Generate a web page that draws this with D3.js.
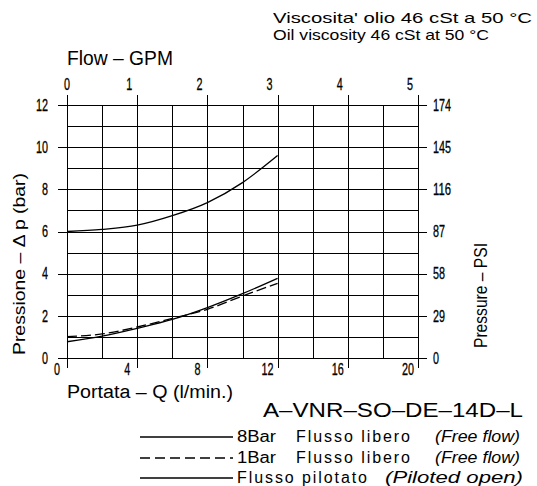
<!DOCTYPE html>
<html>
<head>
<meta charset="utf-8">
<script src="https://cdn.jsdelivr.net/npm/d3@7"></script>
<style>
  html, body { margin: 0; padding: 0; background: #fff; }
  svg { display: block; }
  text { fill: #000; }
</style>
</head>
<body>
<svg id="chart" width="537" height="486"></svg>
<script>
// ---- data ----
const flowLpm   = [0, 2, 4, 6, 8, 10, 12];
const bar8Free  = [6.0, 6.1, 6.3, 6.75, 7.37, 8.32, 9.6];
const bar1Free  = [1.01, 1.14, 1.47, 1.88, 2.31, 2.94, 3.54];
const piloted   = [0.77, 1.04, 1.41, 1.83, 2.39, 3.05, 3.78];

const barTicks  = [0, 2, 4, 6, 8, 10, 12];
const psiLabels = ["0", "29", "58", "87", "116", "145", "174"];
const lpmTicks  = [0, 4, 8, 12, 16, 20];
const gpmLabels = ["0", "1", "2", "3", "4", "5"];
const lpmGrid   = [0, 2, 4, 6, 8, 10, 12, 14, 16, 18, 20];
const barGrid   = [0, 1, 2, 3, 4, 5, 6, 7, 8, 9, 10, 11, 12];

const legendRows = [
  { label: "8Bar", text: "Flusso libero", note: "(Free flow)", dash: null },
  { label: "1Bar", text: "Flusso libero", note: "(Free flow)", dash: "10,5" },
  { label: "", text: "Flusso pilotato", note: "(Piloted open)", dash: null }
];

// ---- layout ----
const svg = d3.select("#chart");
const L = 67, R = 418, T = 105, B = 358;
const x = d3.scaleLinear().domain([0, 20]).range([L, R]);
const y = d3.scaleLinear().domain([0, 12]).range([B, T]);
const narrow = "'Liberation Sans', Arial, sans-serif";
const sans = "'Liberation Sans', Arial, sans-serif";

// grid
const g = svg.append("g").attr("stroke", "#000").attr("stroke-width", 1.4).attr("shape-rendering", "crispEdges");
g.selectAll("line.h").data(barGrid).join("line")
  .attr("x1", d => d % 2 === 0 ? L - 9 : L)
  .attr("x2", d => d % 2 === 0 ? R + 9 : R)
  .attr("y1", d => Math.round(y(d)) + 0.5)
  .attr("y2", d => Math.round(y(d)) + 0.5);
g.selectAll("line.v").data(lpmGrid).join("line")
  .attr("y1", d => d % 4 === 0 ? T - 10 : T)
  .attr("y2", d => d % 4 === 0 ? B + 10 : B)
  .attr("x1", d => Math.round(x(d)) + 0.5)
  .attr("x2", d => Math.round(x(d)) + 0.5);

function tickText(sel) {
  sel.attr("font-family", narrow).attr("font-size", 16)
    .attr("stroke", "#000").attr("stroke-width", 0.3)
    .each(function () {
      const s = d3.select(this).text();
      d3.select(this).attr("textLength", s.length * 6).attr("lengthAdjust", "spacingAndGlyphs");
    });
}
// left tick labels
svg.append("g").selectAll("text").data(barTicks).join("text")
  .attr("x", L - 19).attr("y", d => y(d)).attr("dy", "0.36em")
  .attr("text-anchor", "end").text(d => d).call(tickText);
// right tick labels
svg.append("g").selectAll("text").data(barTicks).join("text")
  .attr("x", R + 15).attr("y", d => y(d)).attr("dy", "0.36em")
  .attr("text-anchor", "start").text((d, i) => psiLabels[i]).call(tickText);
// bottom tick labels
svg.append("g").selectAll("text").data(lpmTicks).join("text")
  .attr("x", d => x(d) - 10).attr("y", B + 17)
  .attr("text-anchor", "middle").text(d => d).call(tickText);
// top tick labels
svg.append("g").selectAll("text").data(lpmTicks).join("text")
  .attr("x", (d, i) => i === 0 ? x(d) : x(d) - 8).attr("y", T - 15)
  .attr("text-anchor", "middle").text((d, i) => gpmLabels[i]).call(tickText);

// curves
const line = d3.line().x((d, i) => x(flowLpm[i])).y(d => y(d)).curve(d3.curveMonotoneX);
svg.append("path").datum(bar8Free).attr("d", line).attr("fill", "none").attr("stroke", "#000").attr("stroke-width", 1.3);
svg.append("path").datum(piloted).attr("d", line).attr("fill", "none").attr("stroke", "#000").attr("stroke-width", 1.3);
svg.append("path").datum(bar1Free).attr("d", line).attr("fill", "none").attr("stroke", "#000").attr("stroke-width", 1.3).attr("stroke-dasharray", "10,4");

// titles
function txt(s, xx, yy, size, fam, w, extra, adj) {
  const t = svg.append("text").attr("x", xx).attr("y", yy).attr("font-size", size).attr("font-family", fam).text(s);
  if (w) t.attr("textLength", w).attr("lengthAdjust", adj || "spacingAndGlyphs");
  if (extra) extra(t);
  return t;
}
txt("Viscosita' olio 46 cSt a 50 °C", 273, 23, 15, sans, 259);
txt("Oil viscosity 46 cSt at 50 °C", 273, 40, 15, sans, 216);
txt("Flow – GPM", 67, 65, 20, narrow, 106);
txt("Portata – Q (l/min.)", 67, 398, 18, narrow, 166);
txt("A–VNR–SO–DE–14D–L", 263, 417, 20, sans, 260);
txt("Pressione – Δ p (bar)", 0, 0, 17, narrow, 182, t => t.attr("transform", "translate(25,355) rotate(-90)"));
txt("Pressure – PSI", 0, 0, 18, narrow, 105, t => t.attr("transform", "translate(487,348) rotate(-90)"));

// legend
const lineYs = [437, 458, 478];
const leg = svg.append("g");
legendRows.forEach((r, i) => {
  leg.append("line").attr("x1", 140).attr("x2", 233).attr("y1", lineYs[i]).attr("y2", lineYs[i])
    .attr("stroke", "#000").attr("stroke-width", 1.3).attr("stroke-dasharray", r.dash);
  const by = lineYs[i] + 5;
  if (r.label) {
    txt(r.label, 237, by, 16, sans, 39);
    txt(r.text, 296, by, 16, sans, 114, null, "spacing");
    txt(r.note, 435, by, 16, sans, 85, t => t.attr("font-style", "italic"));
  } else {
    txt(r.text, 237, by, 16, sans, 130, null, "spacing");
    txt(r.note, 385, by, 16, sans, 138, t => t.attr("font-style", "italic"));
  }
});
</script>
</body>
</html>
